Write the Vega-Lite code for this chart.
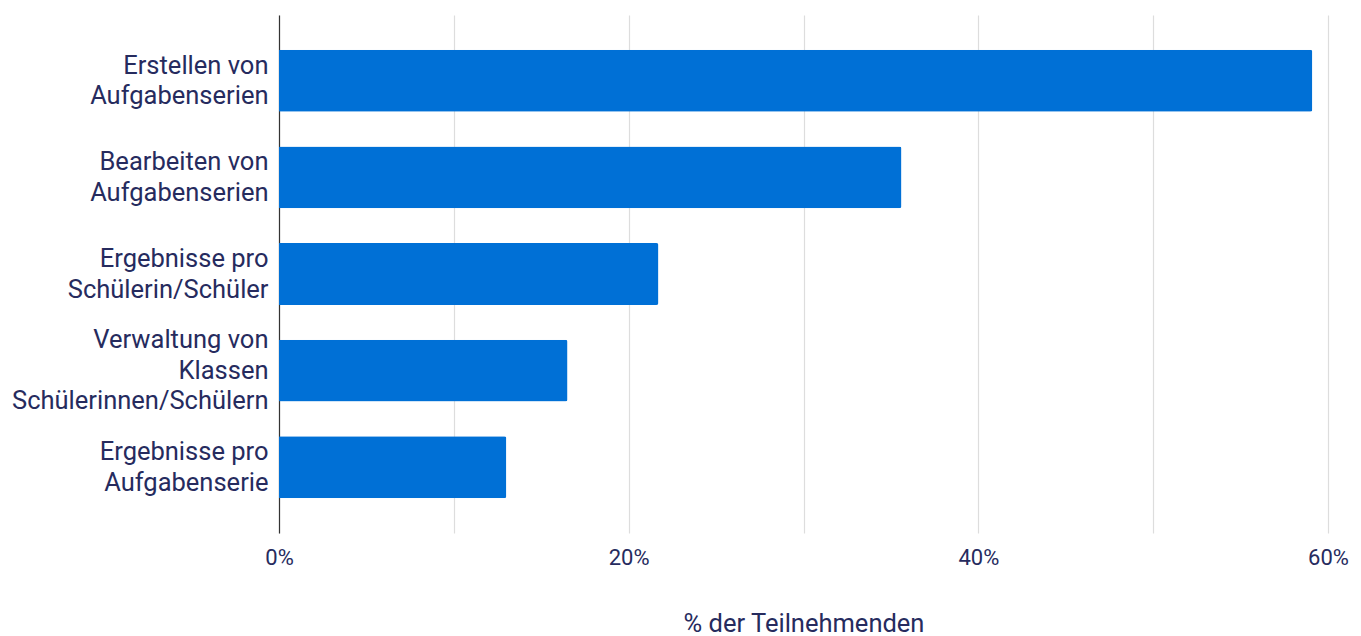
{
  "$schema": "https://vega.github.io/schema/vega-lite/v6.json",
  "autosize": {"type": "none"},
  "padding": {"left": 279, "top": 15, "right": 33, "bottom": 103},
  "width": 1049,
  "height": 518,
  "background": "white",
  "config": {
    "font": "Roboto",
    "view": {"stroke": null}
  },
  "data": {
    "values": [
      {"Funktion": "Erstellen von|Aufgabenserien", "Anteil": 0.591},
      {"Funktion": "Bearbeiten von|Aufgabenserien", "Anteil": 0.356},
      {"Funktion": "Ergebnisse pro|Schülerin/Schüler", "Anteil": 0.217},
      {"Funktion": "Verwaltung von|Klassen|Schülerinnen/Schülern", "Anteil": 0.165},
      {"Funktion": "Ergebnisse pro|Aufgabenserie", "Anteil": 0.13}
    ]
  },
  "mark": {"type": "bar", "color": "#0070d6", "cornerRadiusEnd": 2},
  "encoding": {
    "y": {
      "field": "Funktion",
      "type": "nominal",
      "sort": null,
      "scale": {"paddingInner": 0.36, "paddingOuter": 0.36},
      "axis": {
        "title": null,
        "labelExpr": "split(datum.label, '|')",
        "labelFont": "Roboto",
        "labelFontSize": 25.5,
        "labelLineHeight": 30.5,
        "labelBaseline": "middle",
        "labelOffset": {"condition": {"test": "indexof(datum.value, 'Klassen') >= 0", "value": -30.5}, "value": -15},
        "labelColor": "#262b5e",
        "labelPadding": 11,
        "labelLimit": 400,
        "ticks": false,
        "domainColor": "#333333",
        "domainWidth": 1.2,
        "grid": false
      }
    },
    "x": {
      "field": "Anteil",
      "type": "quantitative",
      "scale": {"domain": [0, 0.6], "nice": false},
      "axis": {
        "title": "% der Teilnehmenden",
        "titleFont": "Roboto",
        "titleFontSize": 25.5,
        "titleFontWeight": "normal",
        "titleColor": "#262b5e",
        "titlePadding": 43,
        "format": ".0%",
        "values": [0, 0.1, 0.2, 0.3, 0.4, 0.5, 0.6],
        "labelExpr": "datum.value * 100 % 20 < 0.001 || datum.value * 100 % 20 > 19.999 ? datum.label : ''",
        "labelFont": "Roboto",
        "labelFontSize": 22,
        "labelColor": "#262b5e",
        "labelPadding": 14,
        "labelFlush": false,
        "ticks": false,
        "domain": false,
        "grid": true,
        "gridColor": "#dddddd",
        "gridWidth": 1.2
      }
    }
  }
}
